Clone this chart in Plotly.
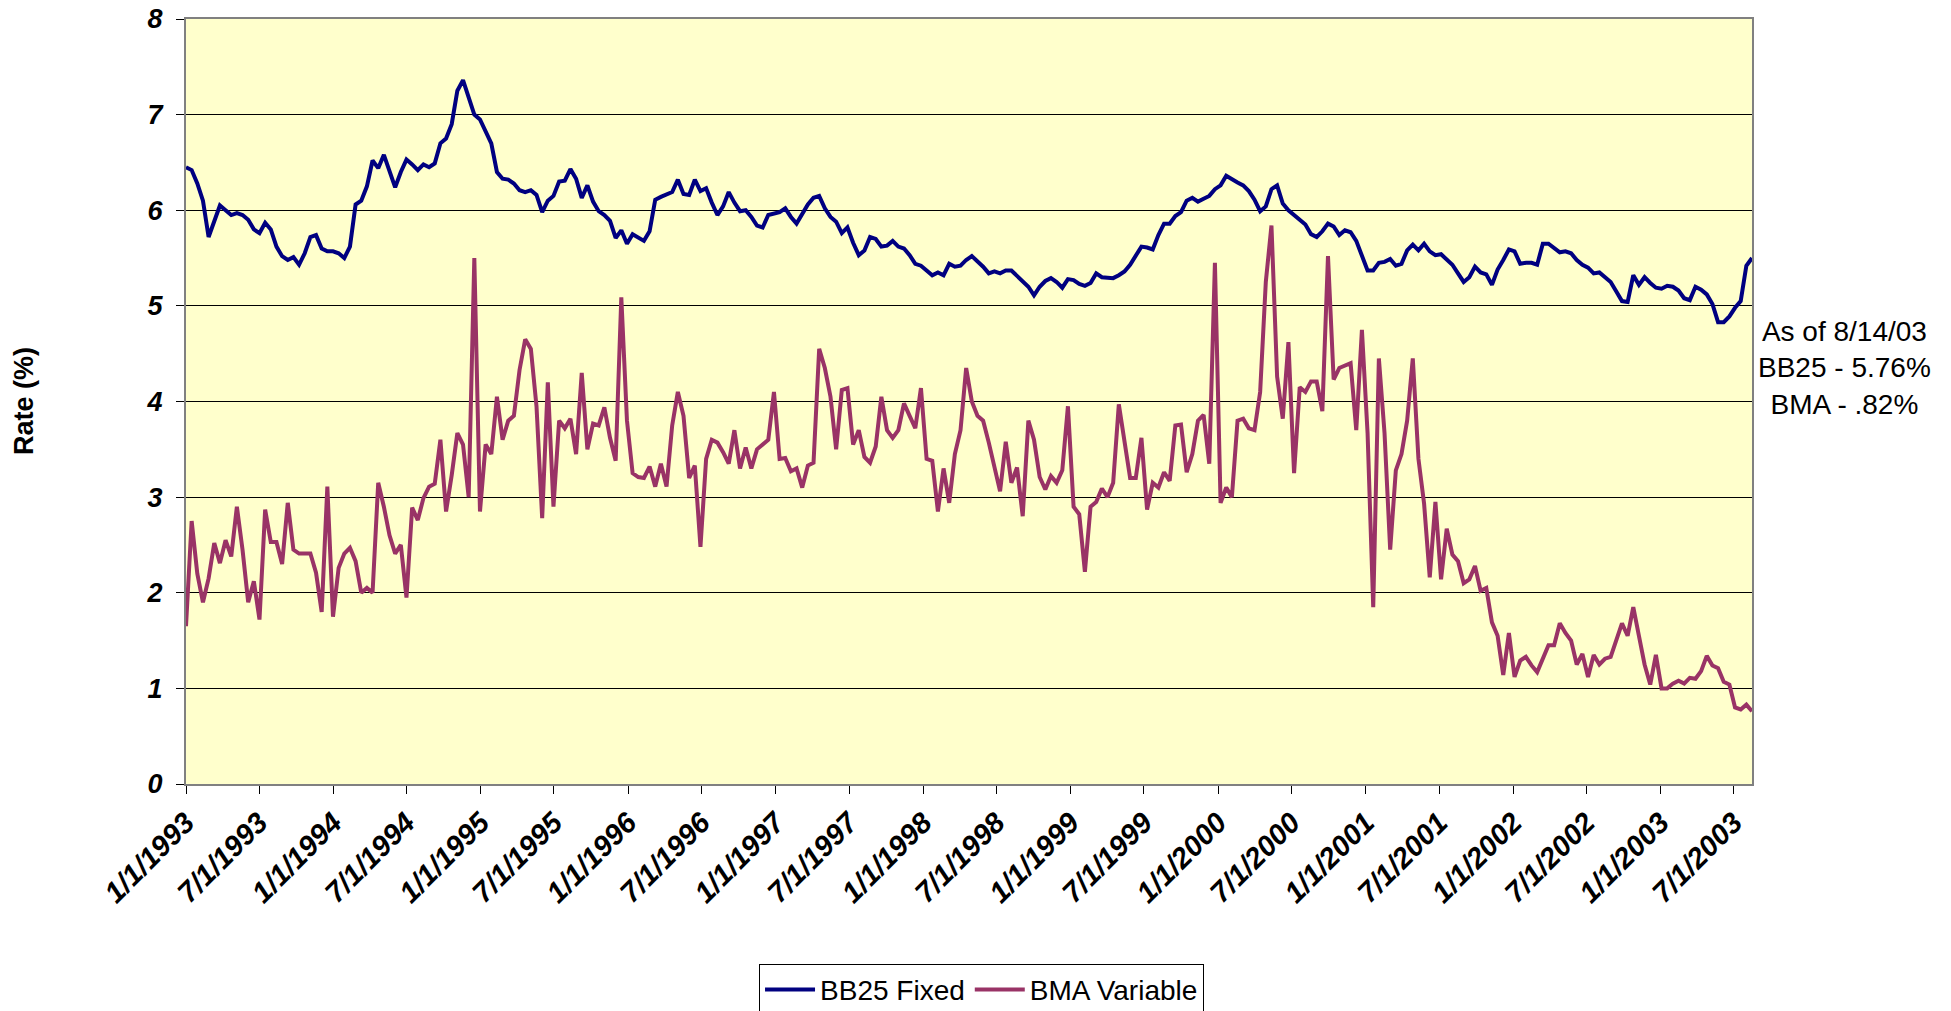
import pandas as pd
import plotly.graph_objects as go

# ---------------- data (bi-weekly readings, starting 1/1/1993) ----------------
start_date = "1993-01-01"

bb25_fixed = [
    6.45, 6.42, 6.28, 6.10, 5.72, 5.90, 6.05, 6.00, 5.95, 5.97, 5.95, 5.90, 5.80, 5.76, 5.87, 5.80,
    5.62, 5.52, 5.48, 5.51, 5.43, 5.55, 5.72, 5.74, 5.60, 5.57, 5.57, 5.55, 5.50, 5.62, 6.06, 6.10,
    6.25, 6.52, 6.44, 6.58,
    6.42, 6.24, 6.40, 6.53, 6.48, 6.42, 6.48, 6.45, 6.49, 6.70, 6.75, 6.90, 7.25, 7.36, 7.18, 7.00,
    6.95, 6.82, 6.70, 6.40, 6.33, 6.32, 6.28, 6.21, 6.19, 6.21, 6.16, 5.98, 6.10, 6.15, 6.30, 6.31,
    6.43, 6.33,
    6.13, 6.26, 6.09, 5.99, 5.95, 5.89, 5.71, 5.79, 5.65, 5.75, 5.72, 5.68, 5.78, 6.11, 6.14, 6.17,
    6.19, 6.32, 6.17, 6.16, 6.32, 6.20, 6.23, 6.08, 5.95, 6.04, 6.19, 6.08, 5.99, 6.00, 5.93, 5.84,
    5.82, 5.95, 5.97,
    5.98, 6.02, 5.93, 5.86, 5.96, 6.06, 6.13, 6.15, 6.02, 5.93, 5.88, 5.76, 5.82, 5.66, 5.53, 5.58,
    5.72, 5.70, 5.62, 5.63, 5.68, 5.62, 5.60, 5.53, 5.44, 5.42, 5.37, 5.32, 5.35, 5.32, 5.44, 5.41,
    5.42, 5.48,
    5.52, 5.47, 5.41, 5.34, 5.36, 5.34, 5.37, 5.37, 5.31, 5.25, 5.20, 5.11, 5.20, 5.26, 5.29, 5.25,
    5.19, 5.28, 5.27, 5.23, 5.21, 5.24, 5.34, 5.30, 5.30, 5.29, 5.32, 5.36, 5.43, 5.53, 5.62, 5.61,
    5.59, 5.74, 5.86,
    5.86, 5.94, 5.98, 6.10, 6.13, 6.09, 6.12, 6.15, 6.22, 6.26, 6.36, 6.32, 6.29, 6.26, 6.20, 6.11,
    5.99, 6.04, 6.22, 6.26, 6.07, 6.00, 5.95, 5.89, 5.85, 5.75, 5.72, 5.78, 5.86, 5.83, 5.74, 5.79,
    5.77, 5.68,
    5.53, 5.37, 5.37, 5.45, 5.46, 5.49, 5.42, 5.44, 5.58, 5.64, 5.58, 5.65, 5.57, 5.53, 5.54, 5.49,
    5.43, 5.34, 5.25, 5.30, 5.41, 5.35, 5.33, 5.22, 5.38, 5.48, 5.59, 5.57, 5.44, 5.45, 5.45, 5.43,
    5.65, 5.65, 5.61,
    5.56, 5.57, 5.55, 5.48, 5.43, 5.40, 5.34, 5.35, 5.30, 5.25, 5.15, 5.05, 5.04, 5.32, 5.22, 5.30,
    5.24, 5.19, 5.18, 5.21, 5.20, 5.16, 5.08, 5.06, 5.20, 5.17, 5.12, 5.02, 4.83, 4.83, 4.89, 4.98,
    5.05, 5.42, 5.50,
]

bma_variable = [
    1.65, 2.75, 2.20, 1.90, 2.15, 2.52, 2.31, 2.55, 2.38, 2.90, 2.45, 1.90, 2.12, 1.72, 2.87, 2.53,
    2.53, 2.30, 2.94, 2.45, 2.41, 2.41, 2.41, 2.21, 1.80, 3.11, 1.75, 2.26, 2.41, 2.47, 2.33, 2.00,
    2.05, 2.00, 3.15, 2.90,
    2.60, 2.41, 2.50, 1.95, 2.89, 2.76, 2.99, 3.11, 3.14, 3.60, 2.85, 3.23, 3.67, 3.55, 3.00, 5.50,
    2.85, 3.55, 3.45, 4.05, 3.60, 3.80, 3.85, 4.33, 4.65, 4.55, 3.95, 2.78, 4.20, 2.90, 3.80, 3.72,
    3.82, 3.45,
    4.30, 3.50, 3.77, 3.75, 3.94, 3.62, 3.38, 5.09, 3.80, 3.25, 3.21, 3.20, 3.32, 3.11, 3.35, 3.11,
    3.75, 4.10, 3.85, 3.20, 3.33, 2.48, 3.40, 3.60, 3.57, 3.47, 3.35, 3.70, 3.30, 3.52, 3.30, 3.50,
    3.55, 3.60, 4.10,
    3.40, 3.41, 3.27, 3.30, 3.10, 3.33, 3.36, 4.55, 4.35, 4.05, 3.50, 4.12, 4.14, 3.55, 3.70, 3.42,
    3.36, 3.53, 4.05, 3.70, 3.62, 3.70, 3.98, 3.85, 3.72, 4.14, 3.40, 3.38, 2.85, 3.30, 2.94, 3.45,
    3.70, 4.35,
    4.00, 3.85, 3.80, 3.57, 3.30, 3.06, 3.58, 3.15, 3.31, 2.80, 3.80, 3.60, 3.21, 3.08, 3.22, 3.15,
    3.28, 3.95, 2.90, 2.82, 2.22, 2.90, 2.95, 3.09, 3.00, 3.15, 3.97, 3.55, 3.20, 3.20, 3.62, 2.87,
    3.15, 3.10, 3.26,
    3.17, 3.75, 3.76, 3.26, 3.45, 3.80, 3.86, 3.35, 5.45, 2.94, 3.10, 3.00, 3.80, 3.82, 3.72, 3.70,
    4.10, 5.25, 5.84, 4.26, 3.82, 4.62, 3.25, 4.15, 4.10, 4.21, 4.21, 3.90, 5.52, 4.23, 4.35, 4.38,
    4.40, 3.70,
    4.75, 3.67, 1.85, 4.45, 3.67, 2.45, 3.28, 3.45, 3.80, 4.45, 3.40, 2.93, 2.16, 2.95, 2.14, 2.67,
    2.40, 2.33, 2.10, 2.14, 2.28, 2.02, 2.05, 1.69, 1.55, 1.14, 1.58, 1.12, 1.29, 1.33, 1.24, 1.17,
    1.30, 1.45, 1.45,
    1.68, 1.58, 1.50, 1.25, 1.36, 1.12, 1.35, 1.25, 1.31, 1.33, 1.50, 1.68, 1.55, 1.85, 1.55, 1.25,
    1.04, 1.35, 1.00, 1.00, 1.05, 1.08, 1.05, 1.11, 1.10, 1.18, 1.34, 1.24, 1.21, 1.07, 1.04, 0.80,
    0.78, 0.83, 0.76,
]

x_tick_labels = [
    "1/1/1993", "7/1/1993", "1/1/1994", "7/1/1994", "1/1/1995", "7/1/1995",
    "1/1/1996", "7/1/1996", "1/1/1997", "7/1/1997", "1/1/1998", "7/1/1998",
    "1/1/1999", "7/1/1999", "1/1/2000", "7/1/2000", "1/1/2001", "7/1/2001",
    "1/1/2002", "7/1/2002", "1/1/2003", "7/1/2003",
]
y_ticks = [0, 1, 2, 3, 4, 5, 6, 7, 8]

series_names = ["BB25 Fixed", "BMA Variable"]
note_lines = ["As of 8/14/03", "BB25 - 5.76%", "BMA - .82%"]
y_title = "Rate (%)"

# ---------------- build ----------------
dates = pd.date_range(start_date, periods=len(bb25_fixed), freq="14D")
tick_dates = pd.to_datetime(x_tick_labels, format="%m/%d/%Y")

FONT = "Arial, Liberation Sans, sans-serif"

fig = go.Figure()
fig.add_trace(go.Scatter(x=dates, y=bb25_fixed, mode="lines", name=series_names[0],
                         line=dict(color="#000080", width=4)))
fig.add_trace(go.Scatter(x=dates, y=bma_variable, mode="lines", name=series_names[1],
                         line=dict(color="#993366", width=4)))

fig.update_layout(
    width=1951, height=1011,
    margin=dict(l=186, r=199, t=19, b=227, autoexpand=False),
    paper_bgcolor="white",
    plot_bgcolor="#FFFFCC",
    font=dict(family=FONT, color="black"),
    showlegend=True,
    legend=dict(orientation="h", x=0.508, xanchor="center", y=-0.235, yanchor="top",
                bordercolor="black", borderwidth=1, bgcolor="white",
                font=dict(size=28, family=FONT), itemwidth=50, tracegroupgap=0),
)

fig.update_xaxes(
    type="date",
    range=[dates[0], dates[-1]],
    tickmode="array",
    tickvals=tick_dates,
    ticktext=x_tick_labels,
    tickangle=-45,
    tickfont=dict(size=29, family=FONT, weight="bold", style="italic"),
    ticks="outside", ticklen=8, tickcolor="black", tickwidth=1,
    showgrid=False,
    showline=True, linecolor="#808080", linewidth=2, mirror=True,
    zeroline=False,
)
fig.update_yaxes(
    range=[0, 8],
    tickmode="array",
    tickvals=y_ticks,
    ticktext=[str(v) for v in y_ticks],
    tickfont=dict(size=27, family=FONT, weight="bold", style="italic"),
    ticks="outside", ticklen=8, tickcolor="black", tickwidth=1,
    ticklabeloverflow="allow",
    showgrid=True, gridcolor="#000000", gridwidth=1,
    showline=True, linecolor="#808080", linewidth=2, mirror=True,
    zeroline=False,
    ticklabelstandoff=8,
)

fig.add_annotation(
    text=y_title, xref="paper", yref="paper", x=-0.1034, y=0.5007,
    xanchor="center", yanchor="middle", textangle=-90, showarrow=False,
    font=dict(size=27, family=FONT, weight="bold"),
)
fig.add_annotation(
    text="<br>".join(note_lines), xref="paper", yref="paper", x=1.059, y=0.544,
    xanchor="center", yanchor="middle", showarrow=False, align="center",
    font=dict(size=28, family=FONT),
)

# remove the page's default 8px body margin so the figure fills the window exactly
fig.write_html(
    "out.html",
    config={"displayModeBar": False},
    post_script="document.body.style.margin='0px';document.body.style.overflow='hidden';",
)
